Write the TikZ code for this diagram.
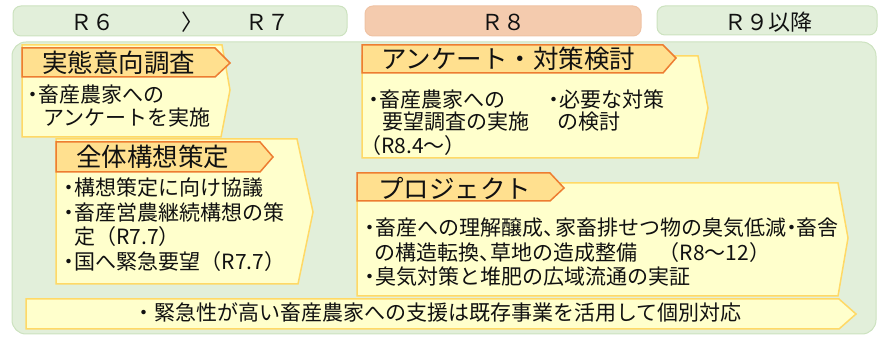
\documentclass[tikz,border=0pt]{standalone}
\usepackage{fontspec}
\setmainfont{Noto Sans CJK JP}
\definecolor{bggreen}{HTML}{E2EFDA}
\definecolor{bgline}{HTML}{CCE2BF}
\definecolor{hdrsalmon}{HTML}{F4CBAE}
\definecolor{hdrsline}{HTML}{EFC3A4}
\definecolor{tagfill}{HTML}{FFE08F}
\definecolor{tagline}{HTML}{ED7D31}
\definecolor{bodyfill}{HTML}{FFFFCC}
\definecolor{bodyline}{HTML}{FFD966}
\definecolor{ink}{HTML}{111111}
\newcommand{\nd}{\makebox[0.5em][c]{・}}
\newcommand{\nc}{\makebox[0.55em][l]{、}}
\tikzset{
  hdrbox/.style={fill=bggreen,draw=bgline,line width=1pt,rounded corners=8pt},
  hdrsbox/.style={fill=hdrsalmon,draw=hdrsline,line width=1pt,rounded corners=8pt},
  bodyshape/.style={fill=bodyfill,draw=bodyline,line width=1.5pt,line join=miter},
  tagshape/.style={fill=tagfill,draw=tagline,line width=1.5pt,line join=miter},
  hdrtext/.style={inner sep=0pt,text=ink,font=\fontsize{22}{26}\selectfont},
  titletext/.style={inner sep=0pt,anchor=west,text=ink,font=\fontsize{25.5}{30}\selectfont},
  bodytext/.style={inner sep=0pt,anchor=west,text=ink,font=\fontsize{21}{24}\selectfont},
}
\begin{document}
\begin{tikzpicture}[x=1pt,y=-1pt]
\useasboundingbox (0,0) rectangle (883,344);
% headers
\draw[hdrbox] (13,6) rectangle (347,36);
\draw[hdrsbox] (365,6) rectangle (641,36);
\draw[hdrbox] (657,6) rectangle (877,35);
\node[hdrtext] (h6) at (92,22) {Ｒ６};
\node[hdrtext] (harr) at (192,22) {〉};
\node[hdrtext] (h7) at (267,22) {Ｒ７};
\node[hdrtext] (h8) at (503,22) {Ｒ８};
\node[hdrtext] (h9) at (768,22) {Ｒ９以降};
% main background
\draw[fill=bggreen,draw=bgline,line width=1pt,rounded corners=14pt] (12,42) rectangle (876,334);
% box 1
\draw[bodyshape] (22,45) -- (222,45) -- (230,90) -- (221,137) -- (22,137) -- cycle;
\draw[tagshape] (22,48) -- (215,48) -- (230,63) -- (215,77) -- (22,77) -- cycle;
\node[titletext] (t1) at (42,63) {実態意向調査};
\node[bodytext] (b1a) at (28,95) {\nd 畜産農家への};
\node[bodytext] (b1b) at (43,118) {アンケートを実施};
% box 2
\draw[bodyshape] (56,139) -- (297,139) -- (313,212) -- (298,284) -- (56,284) -- cycle;
\draw[tagshape] (56,142) -- (260,142) -- (273,157) -- (260,172) -- (56,172) -- cycle;
\node[titletext] (t2) at (76,157) {全体構想策定};
\node[bodytext] (b2a) at (64,188) {\nd 構想策定に向け協議};
\node[bodytext] (b2b) at (64,213) {\nd 畜産営農継続構想の策};
\node[bodytext] (b2c) at (74,237) {定（R7.7）};
\node[bodytext] (b2d) at (64,262) {\nd 国へ緊急要望（R7.7）};
% box 3
\draw[bodyshape] (362,56) -- (698,56) -- (708,108) -- (698,158) -- (362,158) -- cycle;
\draw[tagshape] (362,45) -- (663,45) -- (676,58) -- (663,73) -- (362,73) -- cycle;
\node[titletext] (t3) at (381,59) {アンケート・対策検討};
\node[bodytext] (b3a) at (369,100) {\nd 畜産農家への};
\node[bodytext] (b3b) at (382,122) {要望調査の実施};
\node[bodytext] (b3c) at (360,146) {（R8.4〜）};
\node[bodytext] (b3d) at (549,100) {\nd 必要な対策};
\node[bodytext] (b3e) at (557,122) {の検討};
% box 4
\draw[bodyshape] (357,183) -- (838,183) -- (848,238) -- (838,296) -- (357,296) -- cycle;
\draw[tagshape] (357,173) -- (550,173) -- (564,188) -- (550,201) -- (357,201) -- cycle;
\node[titletext] (t4) at (378,188) {プロジェクト};
\node[bodytext] (b4a) at (365,228) {\nd 畜産への理解醸成\nc 家畜排せつ物の臭気低減\nd 畜舎};
\node[bodytext] (b4b) at (374,253) {の構造転換\nc 草地の造成整備　（R8〜12）};
\node[bodytext] (b4c) at (365,277) {\nd 臭気対策と堆肥の広域流通の実証};
% bottom bar
\draw[bodyshape] (26,299) -- (839,299) -- (856,314) -- (839,329) -- (26,329) -- cycle;
\node[bodytext] (b5) at (133,313) {・緊急性が高い畜産農家への支援は既存事業を活用して個別対応};
\end{tikzpicture}
\end{document}
